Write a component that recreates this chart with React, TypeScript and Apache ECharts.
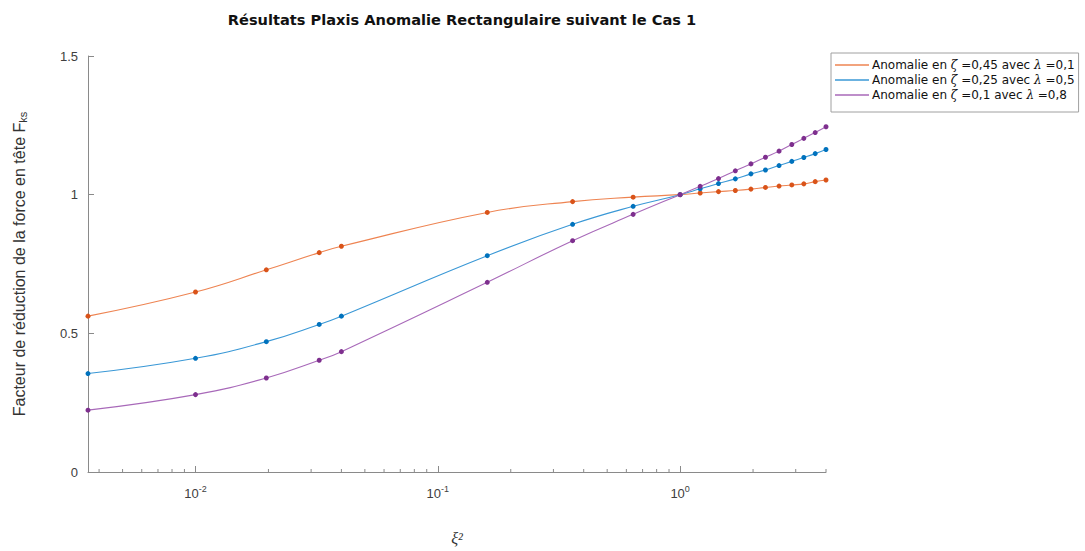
import React, { useEffect, useRef } from "react";
import * as echarts from "echarts";

const XI2 = [0.0036, 0.01, 0.0196, 0.0324, 0.04, 0.16, 0.36, 0.64, 1, 1.21, 1.44, 1.69, 1.96, 2.25, 2.56, 2.89, 3.24, 3.61, 4];
const ORANGE = [0.562, 0.649, 0.729, 0.791, 0.814, 0.936, 0.975, 0.991, 1.0, 1.006, 1.011, 1.015, 1.020, 1.026, 1.031, 1.035, 1.039, 1.047, 1.053];
const BLUE = [0.355, 0.410, 0.470, 0.532, 0.562, 0.780, 0.893, 0.958, 1.0, 1.021, 1.040, 1.057, 1.075, 1.089, 1.105, 1.120, 1.134, 1.148, 1.163];
const PURPLE = [0.223, 0.279, 0.339, 0.403, 0.434, 0.684, 0.834, 0.929, 1.0, 1.030, 1.058, 1.086, 1.111, 1.135, 1.157, 1.181, 1.203, 1.224, 1.245];
const NAMES = [
  "Anomalie en {g|ζ} =0,45 avec {g|λ} =0,1",
  "Anomalie en {g|ζ} =0,25 avec {g|λ} =0,5",
  "Anomalie en {g|ζ} =0,1 avec {g|λ} =0,8",
];
const SERIES_IDS = ["s1", "s2", "s3"];
const MINOR_TICKS = [
  0.004, 0.005, 0.006, 0.007, 0.008, 0.009,
  0.02, 0.03, 0.04, 0.05, 0.06, 0.07, 0.08, 0.09,
  0.2, 0.3, 0.4, 0.5, 0.6, 0.7, 0.8, 0.9,
  2, 3, 4,
];
const LINE_COLORS = ["#EE8452", "#3A98D6", "#A869B9"];
const MARK_COLORS = ["#D95319", "#0072BD", "#7E2F8E"];

const FONT = "'Liberation Sans', Arial, Helvetica, sans-serif";
const WIDE_FONT = "'DejaVu Sans', Verdana, sans-serif";
const SERIF = "'DejaVu Serif', 'Liberation Serif', serif";
const AXIS_COLOR = "#8a8a8a";
const LABEL_COLOR = "#404040";

export default function App() {
  const ref = useRef<HTMLDivElement>(null);
  useEffect(() => {
    if (!ref.current) return;
    const chart = echarts.init(ref.current, null, { renderer: "svg" });
    const values = [ORANGE, BLUE, PURPLE];
    const lineSeries = values.map((vals, i) => ({
      type: "line",
      id: SERIES_IDS[i],
      name: NAMES[i],
      data: XI2.map((x, j) => [x, vals[j]]),
      smooth: 0.45,
      symbol: "circle",
      symbolSize: 5,
      showSymbol: true,
      lineStyle: { color: LINE_COLORS[i], width: 1.1 },
      itemStyle: { color: MARK_COLORS[i] },
      emphasis: { disabled: true },
      z: 3 + i,
    }));
    chart.setOption({
      animation: false,
      textStyle: { fontFamily: FONT },
      title: {
        text: "Résultats Plaxis Anomalie Rectangulaire suivant le Cas 1",
        left: 457,
        textAlign: "center",
        top: 7,
        textStyle: { fontSize: 14.6, fontWeight: "bold", color: "#111", fontFamily: WIDE_FONT },
      },
      legend: {
        orient: "vertical",
        left: 831,
        top: 53,
        width: 252,
        data: NAMES.map((n, i) => ({ name: n, icon: "rect", itemStyle: { color: LINE_COLORS[i] } })),
        itemWidth: 34,
        itemHeight: 1.5,
        itemGap: 3,
        padding: [6, 4, 11, 4],
        borderColor: "#a0a0a0",
        borderWidth: 1,
        backgroundColor: "#fff",
        selectedMode: false,
        textStyle: {
          fontSize: 12,
          color: "#111",
          fontFamily: WIDE_FONT,
          padding: [0, 0, 0, -2],
          rich: {
            g: { fontSize: 12, fontStyle: "italic", fontFamily: SERIF, color: "#111" },
          },
        },
      },
      grid: { left: 88, right: 259, top: 56, bottom: 75, containLabel: false },
      xAxis: {
        type: "log",
        logBase: 10,
        min: 0.0036,
        max: 4,
        name: "ξ²",
        nameLocation: "middle",
        nameGap: 58,
        nameTextStyle: { fontSize: 16, fontStyle: "italic", fontFamily: "'Liberation Serif', serif", color: "#333" },
        axisLine: { show: true, lineStyle: { color: AXIS_COLOR, width: 1 } },
        axisTick: { show: true, inside: true, length: 6, lineStyle: { color: AXIS_COLOR } },
        splitLine: { show: false },
        axisLabel: {
          showMinLabel: false,
          showMaxLabel: false,
          margin: 12,
          color: LABEL_COLOR,
          formatter: (v: number) => {
            const e = Math.round(Math.log10(v));
            return `{b|10}{s|${e}}`;
          },
          rich: {
            b: { fontSize: 13, color: LABEL_COLOR, lineHeight: 18, fontFamily: FONT },
            s: { fontSize: 9, color: LABEL_COLOR, verticalAlign: "top", lineHeight: 10, fontFamily: FONT },
          },
        },
      },
      yAxis: {
        type: "value",
        min: 0,
        max: 1.5,
        interval: 0.5,
        name: "Facteur de réduction de la force en tête F{sub|ks}",
        nameLocation: "middle",
        nameRotate: 90,
        nameGap: 60,
        nameTextStyle: {
          fontSize: 16,
          color: "#333",
          fontFamily: FONT,
          rich: {
            sub: { fontSize: 11, color: "#333", verticalAlign: "bottom", padding: [7, 0, 0, 0], fontFamily: FONT },
          },
        },
        axisLine: { show: true, lineStyle: { color: AXIS_COLOR, width: 1 } },
        axisTick: { show: true, inside: true, length: 6, lineStyle: { color: AXIS_COLOR } },
        splitLine: { show: false },
        axisLabel: { fontSize: 13, color: LABEL_COLOR, margin: 10, fontFamily: FONT },
      },
      series: [
        ...lineSeries,
        {
          type: "custom",
          silent: true,
          clip: false,
          z: 2,
          data: MINOR_TICKS.map((v) => [v, 0]),
          renderItem: (_params: any, api: any) => {
            const p = api.coord([api.value(0), 0]);
            return {
              type: "line",
              shape: { x1: p[0], y1: p[1], x2: p[0], y2: p[1] - 3 },
              style: { stroke: AXIS_COLOR, lineWidth: 1 },
            };
          },
        },
      ],
    });
    return () => chart.dispose();
  }, []);
  return <div ref={ref} style={{ position: "fixed", left: 0, top: 0, width: 1085, height: 551, background: "#fff" }} />;
}
